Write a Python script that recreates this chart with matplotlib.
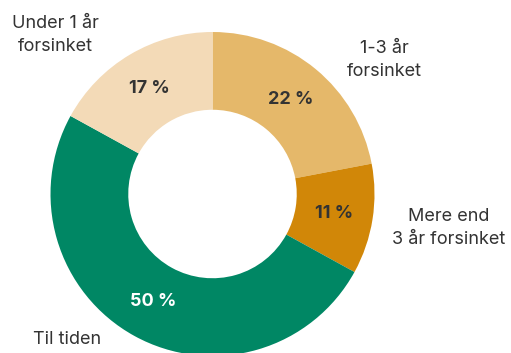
import matplotlib.pyplot as plt

# andel af projekter efter forsinkelse
kategorier = ['1-3 år\nforsinket', 'Mere end\n3 år forsinket', 'Til tiden', 'Under 1 år\nforsinket']
andele = [22, 11, 50, 17]
farver = ['#E5B86A', '#D18708', '#008764', '#F3DAB7']
pct_farver = ['#333333', '#333333', 'white', '#333333']

W, H = 511, 353
fig = plt.figure(figsize=(W / 100, H / 100), dpi=100)
ax = fig.add_axes([0, 0, 1, 1])

cx, cy, r = 212.5, H - 194, 162
wedges, _, autotexts = ax.pie(andele, colors=farver, startangle=90, counterclock=False,
                              center=(cx, cy), radius=r,
                              wedgeprops=dict(width=r * 0.48, linewidth=0),
                              autopct=lambda p: f'{p:.0f} %', pctdistance=0.76)
for t, c in zip(autotexts, pct_farver):
    t.set_color(c)
    t.set_fontweight('bold')
    t.set_fontsize(13)
    t.set_family('Inter')

# kategorinavne uden for ringen
label_pos = [(384, 60), (449, 228), (67, 339), (55, 35)]
for tekst, (x, y) in zip(kategorier, label_pos):
    ax.text(x, H - y, tekst, ha='center', va='center', fontsize=13, color='#333333',
            family='Inter', linespacing=1.4)

ax.set_xlim(0, W)
ax.set_ylim(0, H)
ax.set_aspect('equal')
ax.axis('off')
fig.savefig('out.png', dpi=100)
